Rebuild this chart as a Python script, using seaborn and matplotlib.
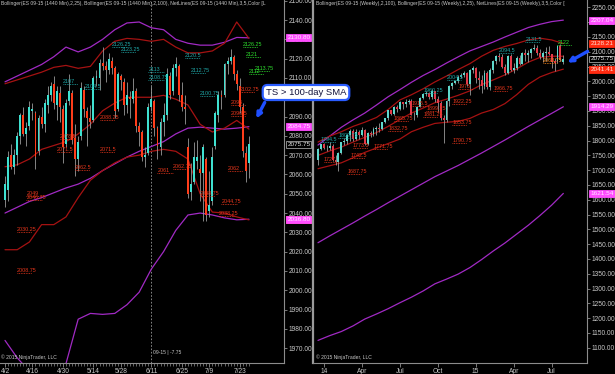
import matplotlib
matplotlib.use('Agg')
import matplotlib.pyplot as plt
import matplotlib.transforms as mtransforms
from matplotlib import font_manager
from matplotlib.patches import FancyArrowPatch
import seaborn as sns

# ---------------- daily (1440 min) data, ES 09-15 ----------------
d_dates = ["4/2", "4/6", "4/7", "4/8", "4/9", "4/10", "4/13", "4/14", "4/15", "4/16",
           "4/17", "4/20", "4/21", "4/22", "4/23", "4/24", "4/27", "4/28", "4/29", "4/30",
           "5/1", "5/4", "5/5", "5/6", "5/7", "5/8", "5/11", "5/12", "5/13", "5/14",
           "5/15", "5/18", "5/19", "5/20", "5/21", "5/22", "5/26", "5/27", "5/28", "5/29",
           "6/1", "6/2", "6/3", "6/4", "6/5", "6/8", "6/9", "6/10", "6/11", "6/12",
           "6/15", "6/16", "6/17", "6/18", "6/19", "6/22", "6/23", "6/24", "6/25", "6/26",
           "6/29", "6/30", "7/1", "7/2", "7/6", "7/7", "7/8", "7/9", "7/10", "7/13",
           "7/14", "7/15", "7/16", "7/17", "7/20", "7/21", "7/22", "7/23", "7/24", "7/27",
           "7/28"]
d_labels = ["4/2", "4/16", "4/30", "5/14", "5/28", "6/11", "6/25", "7/9", "7/23"]

d_open = [2047, 2052, 2070, 2064, 2070, 2080, 2091, 2081, 2085, 2093,
          2092, 2072, 2090, 2086, 2096, 2101, 2107, 2096, 2102, 2094,
          2076, 2098, 2102, 2079, 2068, 2080, 2104, 2093, 2089, 2088,
          2110, 2110, 2118, 2116, 2114, 2119, 2115, 2094, 2111, 2108,
          2096, 2100, 2099, 2103, 2085, 2082, 2069, 2071, 2095, 2098,
          2084, 2074, 2087, 2091, 2111, 2103, 2115, 2116, 2101, 2095,
          2074, 2051, 2056, 2067, 2063, 2061, 2068, 2041, 2046, 2075,
          2091, 2101, 2101, 2117, 2119, 2121, 2112, 2106, 2095, 2071,
          2066]
d_close = [2055, 2069, 2064, 2070, 2080, 2091, 2081, 2084, 2095, 2094,
           2069, 2089, 2086, 2097, 2101, 2106, 2097, 2103, 2095, 2074,
           2097, 2103, 2078, 2068, 2077, 2105, 2094, 2089, 2087, 2110,
           2111, 2118, 2116, 2114, 2120, 2115, 2093, 2112, 2109, 2096,
           2101, 2099, 2103, 2085, 2082, 2069, 2070, 2095, 2099, 2084,
           2075, 2087, 2091, 2112, 2101, 2115, 2117, 2101, 2095, 2094,
           2050, 2055, 2069, 2069, 2061, 2074, 2039, 2044, 2069, 2092,
           2101, 2100, 2117, 2119, 2121, 2112, 2107, 2095, 2072, 2062,
           2075.75]
d_high = [2059, 2072, 2076, 2073, 2082, 2092, 2095, 2087, 2098, 2097,
          2093, 2091, 2095, 2099, 2106, 2108, 2111, 2106, 2106, 2096,
          2099, 2112, 2104, 2086, 2080, 2108, 2106, 2095, 2096, 2111,
          2114, 2120, 2126, 2119, 2123, 2121, 2116, 2113, 2112, 2110,
          2108, 2103, 2110, 2105, 2087, 2083, 2074, 2097, 2106, 2099,
          2085, 2089, 2097, 2115, 2113, 2117, 2121, 2117, 2108, 2101,
          2079, 2066, 2077, 2078, 2070, 2076, 2069, 2062, 2074, 2093,
          2103, 2104, 2118, 2121, 2125, 2122, 2114, 2110, 2097, 2075,
          2080]
d_low = [2043, 2046, 2063, 2060, 2065, 2076, 2080, 2075, 2083, 2088,
         2063, 2070, 2084, 2082, 2092, 2098, 2094, 2088, 2087, 2066,
         2074, 2096, 2076, 2059, 2062, 2078, 2090, 2075, 2084, 2087,
         2106, 2104, 2114, 2108, 2112, 2112, 2089, 2093, 2104, 2091,
         2092, 2089, 2097, 2082, 2075, 2067, 2064, 2070, 2093, 2080,
         2068, 2070, 2080, 2088, 2099, 2101, 2111, 2098, 2093, 2086,
         2048, 2047, 2055, 2063, 2046, 2036, 2036, 2038, 2044, 2073,
         2087, 2094, 2100, 2112, 2117, 2109, 2104, 2092, 2069, 2056,
         2058]

# bollinger bands every 4th bar
d_band_idx = [0, 4, 8, 12, 16, 20, 24, 28, 32, 36, 40, 44, 48, 52, 56, 60, 64, 68, 72, 76, 80]
d_bb100_up = [2108, 2111, 2114, 2117, 2121, 2126, 2123.5, 2126, 2130, 2135, 2138.5,
              2139, 2136, 2135, 2130, 2128, 2127, 2127, 2128.5, 2131, 2130.8]
d_bb100_mid = [2040, 2043, 2046, 2048, 2050.5, 2053, 2055, 2058, 2062, 2065.5, 2069,
               2072, 2074.5, 2077, 2081, 2084, 2084.5, 2084, 2083.5, 2084, 2084.75]
d_bb100_lo = [1974, 1965, 1958, 1955, 1954, 1962, 1985, 1988, 1987.5, 1988, 1992.5,
              1999, 2011, 2020, 2031, 2039, 2040, 2039, 2037.5, 2036.5, 2036.8]
d_bb25_up = [2107, 2109, 2111, 2113, 2115.5, 2116.5, 2115, 2116, 2124, 2129, 2130.5,
             2130, 2129, 2130, 2126, 2123, 2123, 2124, 2128, 2139, 2130.5]
d_bb25_mid = [2064, 2065, 2068, 2073, 2075, 2077, 2081, 2086, 2093, 2097, 2100,
              2100, 2100, 2101, 2099, 2096, 2086, 2082, 2084, 2088, 2083.5]
d_bb25_lo = [2021, 2021, 2025, 2034, 2034, 2038, 2048, 2057, 2062, 2066, 2069,
             2070, 2072, 2073, 2072, 2068, 2050, 2040.5, 2040, 2038, 2036.45]

# NetLines levels (value, bar where drawn, kind)
d_net_vals = [2126.25, 2123.25, 2120.5, 2126.25, 2121, 2113.75, 2112, 2113, 2112.75,
              2108.75, 2107, 2104.5, 2100.75, 2102.75, 2096, 2090.5, 2088.25, 2078.5,
              2071.5, 2071.5, 2062.5, 2061, 2062.75, 2062, 2048.75, 2044.75, 2038.25,
              2049, 2046.75, 2030.25, 2008.75]
d_net_idx = [35, 38, 59, 78, 79, 82, 80, 47, 61, 47, 19, 26, 64, 77, 74, 74, 31, 18,
             17, 31, 23, 50, 55, 73, 64, 71, 70, 7, 7, 4, 4]
d_net_kind = ["r", "r", "r", "g", "g", "g", "g", "r", "r", "r", "r", "r", "r", "s",
              "s", "s", "s", "s", "s", "s", "s", "s", "s", "s", "s", "s", "s", "s",
              "s", "s", "s"]

# ---------------- weekly data, ES 09-15 ----------------
w_labels = ["14", "Apr", "Jul", "Oct", "15", "Apr", "Jul"]
w_label_idx = [2, 15, 28, 41, 54, 67, 80]

w_open = [1736, 1770, 1787, 1774, 1776, 1783, 1735, 1729, 1757, 1794,
          1800, 1820, 1834, 1804, 1828, 1820, 1836, 1790, 1826, 1822,
          1838, 1843, 1840, 1862, 1876, 1902, 1890, 1915, 1908, 1930,
          1922, 1932, 1934, 1888, 1886, 1914, 1944, 1958, 1962, 1947,
          1966, 1942, 1928, 1876, 1870, 1935, 1985, 1995, 2000, 2016,
          2022, 2028, 1990, 2040, 2045, 2012, 2005, 1985, 2030, 1980,
          2040, 2070, 2085, 2082, 2050, 2030, 2085, 2040, 2045, 2080,
          2060, 2095, 2090, 2095, 2110, 2114, 2095, 2082, 2095, 2100,
          2092, 2070, 2068, 2118, 2066]
w_close = [1770, 1787, 1774, 1776, 1783, 1735, 1729, 1757, 1794, 1800,
           1820, 1834, 1804, 1828, 1820, 1836, 1790, 1826, 1822, 1838,
           1843, 1840, 1862, 1876, 1902, 1890, 1915, 1908, 1930, 1922,
           1932, 1934, 1888, 1886, 1914, 1944, 1958, 1962, 1947, 1966,
           1942, 1928, 1876, 1870, 1935, 1985, 1995, 2000, 2016, 2022,
           2028, 1990, 2040, 2045, 2012, 2005, 1985, 2030, 1980, 2040,
           2070, 2085, 2082, 2050, 2030, 2085, 2040, 2045, 2080, 2060,
           2095, 2090, 2095, 2110, 2114, 2095, 2082, 2095, 2100, 2092,
           2065, 2062, 2118, 2072, 2075.75]
w_high = [1775, 1790, 1792, 1785, 1796, 1788, 1750, 1760, 1796, 1808,
          1823, 1840, 1838, 1838, 1835, 1846, 1840, 1830, 1834, 1845,
          1848, 1858, 1864, 1878, 1903, 1905, 1918, 1920, 1933, 1932,
          1940, 1942, 1942, 1898, 1918, 1948, 1962, 1968, 1965, 1974,
          1968, 1950, 1935, 1885, 1938, 1988, 1998, 2005, 2020, 2028,
          2035, 2032, 2042, 2052, 2050, 2035, 2020, 2040, 2035, 2045,
          2072, 2090, 2095, 2092, 2060, 2090, 2092, 2062, 2085, 2090,
          2100, 2110, 2105, 2113, 2125, 2122, 2108, 2102, 2115, 2120,
          2094, 2080, 2122, 2125, 2090]
w_low = [1718, 1768, 1770, 1765, 1768, 1730, 1718, 1697, 1754, 1785,
         1790, 1798, 1800, 1802, 1805, 1816, 1785, 1786, 1812, 1814,
         1820, 1830, 1836, 1858, 1868, 1885, 1885, 1898, 1905, 1908,
         1912, 1925, 1885, 1870, 1880, 1912, 1940, 1950, 1942, 1940,
         1932, 1895, 1870, 1792, 1862, 1918, 1975, 1990, 1995, 2012,
         2015, 1985, 1955, 2030, 1995, 1975, 1960, 1975, 1975, 1970,
         2030, 2060, 2070, 2045, 2020, 2025, 2035, 2030, 2040, 2055,
         2058, 2070, 2065, 2080, 2105, 2090, 2075, 2065, 2070, 2090,
         2045, 2035, 2062, 2070, 2058]

w_band_idx = [0, 4, 8, 12, 16, 20, 24, 28, 32, 36, 40, 44, 48, 52, 56, 60, 64, 68, 72, 76, 80, 84]
w_bb100_up = [1785, 1815, 1845, 1870, 1893, 1920, 1948, 1972, 1997, 2020, 2040,
              2062, 2083, 2103, 2118, 2133, 2150, 2166, 2182, 2193, 2202, 2207.04]
w_bb100_mid = [1455, 1478, 1500, 1522, 1545, 1567, 1590, 1612, 1634, 1656, 1678,
               1697, 1716, 1737, 1758, 1780, 1802, 1825, 1848, 1870, 1892, 1914.29]
w_bb100_lo = [1125, 1141, 1155, 1174, 1197, 1214, 1232, 1252, 1271, 1292, 1316,
              1332, 1349, 1371, 1398, 1427, 1454, 1484, 1514, 1547, 1582, 1621.54]
w_bb25_up = [1795, 1815, 1830, 1848, 1862, 1878, 1905, 1937, 1955, 1975, 1998,
             2018, 2040, 2060, 2085, 2105, 2118, 2128, 2140, 2146, 2140, 2128.21]
w_bb25_mid = [1750, 1765, 1778, 1795, 1811, 1827, 1848, 1871, 1893, 1910, 1928,
              1940, 1953, 1968, 1989, 2005, 2022, 2042, 2065, 2081, 2085, 2085]
w_bb25_lo = [1705, 1715, 1725, 1742, 1760, 1775, 1790, 1805, 1830, 1845, 1858,
             1862, 1865, 1875, 1893, 1905, 1925, 1955, 1990, 2015, 2030, 2041.41]

w_net_vals = [2122, 2063.75, 1966.75, 1973, 1922.25, 1915.5, 1899.25, 1881.25, 1865.75,
              1853.75, 1832.75, 1790.75, 1773.5, 1771.75, 1742.5, 1727, 1687.75,
              2131.5, 2094.5, 2004.5, 1960.25, 1809.75, 1794.5]
w_net_idx = [82, 77, 60, 48, 46, 32, 37, 36, 26, 46, 24, 46, 12, 19, 11, 2, 10,
             71, 62, 44, 36, 7, 1]
w_net_kind = ["g", "o", "s", "s", "s", "s", "s", "s", "s", "s", "s", "s", "s", "s",
              "s", "s", "s", "r", "r", "r", "r", "r", "r"]

# price tags on the right scale (value, style)
d_tags = [(2130.80, "pink"), (2084.75, "pink"), (2075.75, "last"), (2036.45, "red"), (2036.80, "pink")]
w_tags = [(2207.04, "pink"), (2128.21, "red"), (2075.75, "last"), (2041.41, "red"),
          (1914.29, "pink"), (1621.54, "pink")]

# ---------------- style ----------------
sns.set_theme(style="dark", rc={"axes.facecolor": "black", "figure.facecolor": "black"})
plt.rcParams['font.family'] = ['Liberation Sans', 'DejaVu Sans']

installed = {f.name for f in font_manager.fontManager.ttflist}
if "Liberation Sans Narrow" in installed:
    HEAD_FONT, HEAD_SIZE = ["Liberation Sans Narrow", "DejaVu Sans"], 4.3
else:
    HEAD_FONT, HEAD_SIZE = ["Liberation Sans", "DejaVu Sans"], 3.6

PURPLE = "#a12ac4"
DKRED = "#a51212"
GRAY = "#8c8c8c"
TXT = "#c8c8c8"
NET_COL = {"r": "#1fa8a8", "g": "#2ee02e", "s": "#e8361c", "o": "#ff8a1a"}
TAG_STYLE = {"pink": ("#ff4dff", "#ffe6ff", "#ff4dff"),
             "red": ("#ff2a10", "#ffd8cc", "#ff2a10"),
             "last": ("#000000", "#e0e0e0", "#a0a0a0")}

fig = plt.figure(figsize=(6.15, 3.74), dpi=100, facecolor="black")
ax1 = fig.add_axes([0.0, 0.0294, 284 / 615, 0.9706])
ax2 = fig.add_axes([313 / 615, 0.0294, 274 / 615, 0.9706])


def candles(ax, o, h, l, c, up, down, width):
    idx = list(range(len(o)))
    ax.vlines(idx, l, h, color="#9a9a9a", lw=0.6, zorder=3)
    bottoms = [min(a, b) for a, b in zip(o, c)]
    heights = [max(abs(b - a), 0.6) for a, b in zip(o, c)]
    cols = [up if b >= a else down for a, b in zip(o, c)]
    ax.bar(idx, heights, bottom=bottoms, width=width, color=cols, linewidth=0, zorder=4)


def bands(ax, idx, series):
    for vals, col in series:
        sns.lineplot(x=idx, y=vals, ax=ax, color=col, linewidth=0.9, legend=False, zorder=2)


def netlines(ax, vals, idx, kinds, span):
    for v, i, k in zip(vals, idx, kinds):
        col = NET_COL[k]
        ax.plot([i, i + span], [v, v], ls=(0, (1, 1)), color=col, lw=0.6, zorder=5)
        txt = f"{v:g}"
        ax.text(i, v, txt, fontsize=3.9, color=col, va="bottom", ha="left", zorder=6, clip_on=True)


def tags(ax, taglist):
    trans = mtransforms.blended_transform_factory(ax.transAxes, ax.transData)
    for n, (v, style) in enumerate(taglist):
        fc, tc, ec = TAG_STYLE[style]
        dy = -3 if (style == "red" and n > 0 and abs(taglist[n - 1][0] - v) < 2) else 0
        t = mtransforms.offset_copy(trans, fig=fig, x=0, y=dy, units="dots")
        ax.text(1.012, v, f"{v:.2f}", transform=t, fontsize=4.6, color=tc, va="center",
                ha="left", clip_on=False, zorder=10,
                bbox=dict(boxstyle="square,pad=0.15", fc=fc, ec=ec, lw=0.6))


def style_axes(ax, ylim, xlim, yticks):
    ax.set_facecolor("black")
    ax.set_xlim(*xlim)
    ax.set_ylim(*ylim)
    ax.yaxis.tick_right()
    ax.set_yticks(yticks)
    ax.set_yticklabels([f"{t:.2f}" for t in yticks])
    ax.tick_params(axis="y", which="major", direction="out", length=2, width=0.6, color=GRAY,
                   labelcolor=TXT, labelsize=4.8, pad=1.2, right=True, left=False)
    ax.tick_params(axis="x", which="both", direction="out", color=GRAY, labelcolor=TXT,
                   labelsize=4.8, pad=0.8, bottom=True)
    ax.tick_params(axis="x", which="major", length=3, width=0.6)
    ax.tick_params(axis="x", which="minor", length=1.8, width=0.5)
    ax.grid(False)
    for s in ["top", "left"]:
        ax.spines[s].set_visible(False)
    for s in ["right", "bottom"]:
        ax.spines[s].set_color(GRAY)
        ax.spines[s].set_linewidth(0.8)
    ax.set_xlabel("")
    ax.set_ylabel("")


def header(ax, text, x0):
    t = ax.text(x0, 0.997, text, transform=ax.transAxes, fontsize=HEAD_SIZE, family=HEAD_FONT,
                color=TXT, va="top", ha="left")
    t.set_clip_box(ax.bbox)
    t.set_clip_on(True)
    ax.text(x0, 0.008, "\u00a9 2015 NinjaTrader, LLC", transform=ax.transAxes, fontsize=HEAD_SIZE,
            family=HEAD_FONT, color=TXT, va="bottom", ha="left")


# ---------------- left: daily ----------------
bands(ax1, d_band_idx, [(d_bb100_up, PURPLE), (d_bb100_mid, PURPLE), (d_bb100_lo, PURPLE),
                        (d_bb25_up, DKRED), (d_bb25_mid, DKRED), (d_bb25_lo, DKRED)])
candles(ax1, d_open, d_high, d_low, d_close, "#3fe0d0", "#ff3d1a", 0.62)
netlines(ax1, d_net_vals, d_net_idx, d_net_kind, 5)
style_axes(ax1, (1962.3, 2150.4), (-1.64, 91.5), list(range(1970, 2151, 10)))
ax1.set_xticks([d_dates.index(s) for s in d_labels])
ax1.set_xticklabels(d_labels)
ax1.set_xticks(list(range(len(d_dates))), minor=True)
roll = d_dates.index("6/11")
ax1.axvline(roll, color="#9a9a9a", lw=0.6, ls=(0, (2, 2)), zorder=1)
ax1.text(roll + 0.4, 1966.5, "09-15 | -7.75", fontsize=HEAD_SIZE, family=HEAD_FONT, color=TXT,
         ha="left", va="bottom")
header(ax1, "Bollinger(ES 09-15 (1440 Min),2,25), Bollinger(ES 09-15 (1440 Min),2,100), "
       "NetLines(ES 09-15 (1440 Min),3,5,Color [L", 0.004)
tags(ax1, d_tags)

# ---------------- right: weekly ----------------
bands(ax2, w_band_idx, [(w_bb100_up, PURPLE), (w_bb100_mid, PURPLE), (w_bb100_lo, PURPLE),
                        (w_bb25_up, DKRED), (w_bb25_mid, DKRED), (w_bb25_lo, DKRED)])
candles(ax2, w_open, w_high, w_low, w_close, "#5fd8cc", "#e33a48", 0.66)
netlines(ax2, w_net_vals, w_net_idx, w_net_kind, 5)
style_axes(ax2, (1048.6, 2275), (-1.71, 92.1), list(range(1100, 2251, 50)))
ax2.spines["left"].set_visible(True)
ax2.spines["left"].set_color("#9a9a9a")
ax2.spines["left"].set_linewidth(1.6)
ax2.set_xticks(w_label_idx)
ax2.set_xticklabels(w_labels)
header(ax2, "Bollinger(ES 09-15 (Weekly),2,100), Bollinger(ES 09-15 (Weekly),2,25), "
       "NetLines(ES 09-15 (Weekly),3,5,Color [", 0.01)
tags(ax2, w_tags)

# ---------------- callout ----------------
fig.text(306 / 615, 1 - 92.5 / 374, "TS > 100-day SMA", fontsize=6.8, color="#14143c",
         ha="center", va="center", zorder=20,
         bbox=dict(boxstyle="round,pad=0.32,rounding_size=0.5", fc="white", ec="#2a5cff", lw=1.6))
for (x0, y0), (x1, y1) in [((266, 100), (255, 121)), ((590, 50), (565, 64))]:
    fig.patches.append(FancyArrowPatch((x0 / 615, 1 - y0 / 374), (x1 / 615, 1 - y1 / 374),
                                       transform=fig.transFigure, arrowstyle="-|>",
                                       mutation_scale=7, lw=2.4, color="#1f4fff", zorder=20))

fig.savefig("out.png", dpi=100, facecolor="black")
